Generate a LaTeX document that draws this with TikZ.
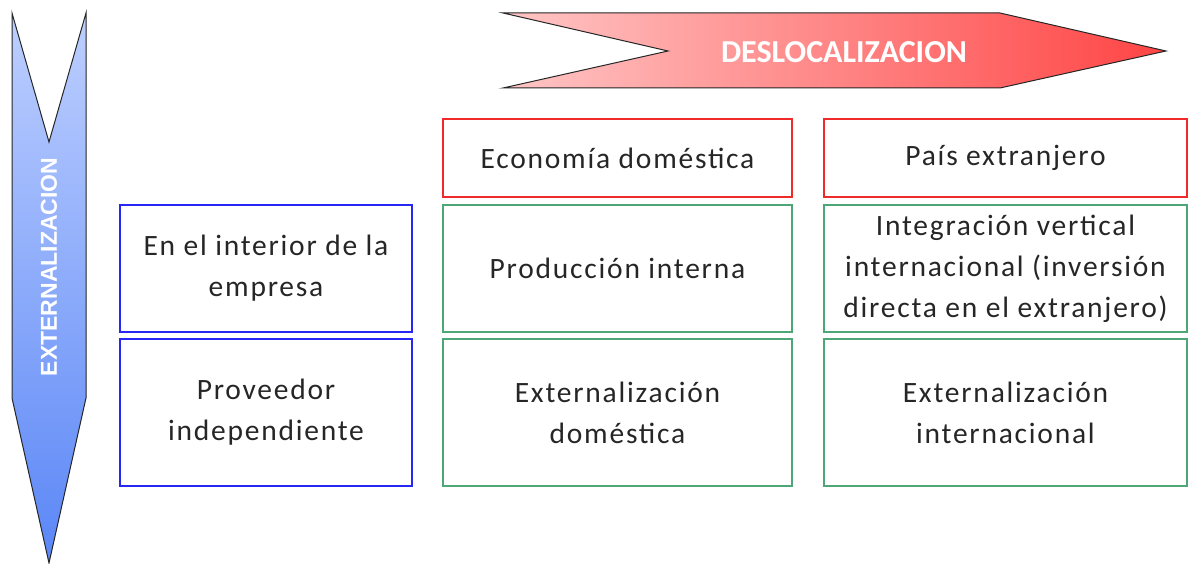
\documentclass[tikz,border=0pt]{standalone}
\usepackage{fontspec}
\setmainfont{Carlito}[LetterSpace=6]
\newfontfamily\arrowfont{Carlito}
\newfontfamily\vertfont{Liberation Sans}
\definecolor{bblue}{HTML}{2626F5}
\definecolor{bred}{HTML}{F02A2A}
\definecolor{bgreen}{HTML}{4CA676}
\definecolor{arrblueT}{HTML}{BDCFFF}
\definecolor{arrblueB}{HTML}{5A86F6}
\definecolor{arrredL}{HTML}{FFC6C6}
\definecolor{arrredR}{HTML}{FF4444}
\tikzset{
  cell/.style={draw, line width=1.4pt, inner sep=0pt, align=center,
    font=\fontsize{29.5}{41}\selectfont, text=black!85},
  bluecell/.style={cell, draw=bblue},
  redcell/.style={cell, draw=bred},
  greencell/.style={cell, draw=bgreen},
  arrowline/.style={draw=black!85, line width=1pt, line join=miter},
  arrlabel/.style={text=white, inner sep=0pt}
}
\begin{document}
\begin{tikzpicture}[x=1pt,y=-1pt]
\useasboundingbox (0,0) rectangle (1189,564);
% vertical arrow
\shade[top color=arrblueT, bottom color=arrblueB]
  (12,13) -- (49,142) -- (86,13) -- (86,398) -- (49,563) -- (12,398) -- cycle;
\draw[arrowline]
  (12,13) -- (49,142) -- (86,13) -- (86,398) -- (49,563) -- (12,398) -- cycle;
\node[arrlabel, rotate=90, font=\vertfont\bfseries\fontsize{23}{23}\selectfont] (ext) at (49,267) {EXTERNALIZACION};
% horizontal arrow
\shade[left color=arrredL, right color=arrredR]
  (503,13) -- (1000,13) -- (1166,51) -- (1000,88) -- (503,88) -- (668,51) -- cycle;
\draw[arrowline]
  (503,13) -- (1000,13) -- (1166,51) -- (1000,88) -- (503,88) -- (668,51) -- cycle;
\node[arrlabel, font=\arrowfont\bfseries\fontsize{32}{32}\selectfont] (desl) at (844,52) {DESLOCALIZACION};
% header row
\node[redcell, minimum width=349pt, minimum height=78pt] (eco) at (617.5,158) {Economía doméstica};
\node[redcell, minimum width=363pt, minimum height=78pt] (pais) at (1005.5,158) {País extranjero};
% row 1
\node[bluecell, minimum width=292pt, minimum height=127pt] (int) at (266,268.5) {En el interior de la\\empresa};
\node[greencell, minimum width=349pt, minimum height=127pt] (prod) at (617.5,268.5) {Producción interna};
\node[greencell, minimum width=363pt, minimum height=127pt] (intv) at (1005.5,268.5) {Integración vertical\\internacional (inversión\\directa en el extranjero)};
% row 2
\node[bluecell, minimum width=292pt, minimum height=147pt] (prov) at (266,412.5) {Proveedor\\independiente};
\node[greencell, minimum width=349pt, minimum height=147pt] (extd) at (617.5,412.5) {Externalización\\doméstica};
\node[greencell, minimum width=363pt, minimum height=147pt] (exti) at (1005.5,412.5) {Externalización\\internacional};
\end{tikzpicture}
\end{document}
